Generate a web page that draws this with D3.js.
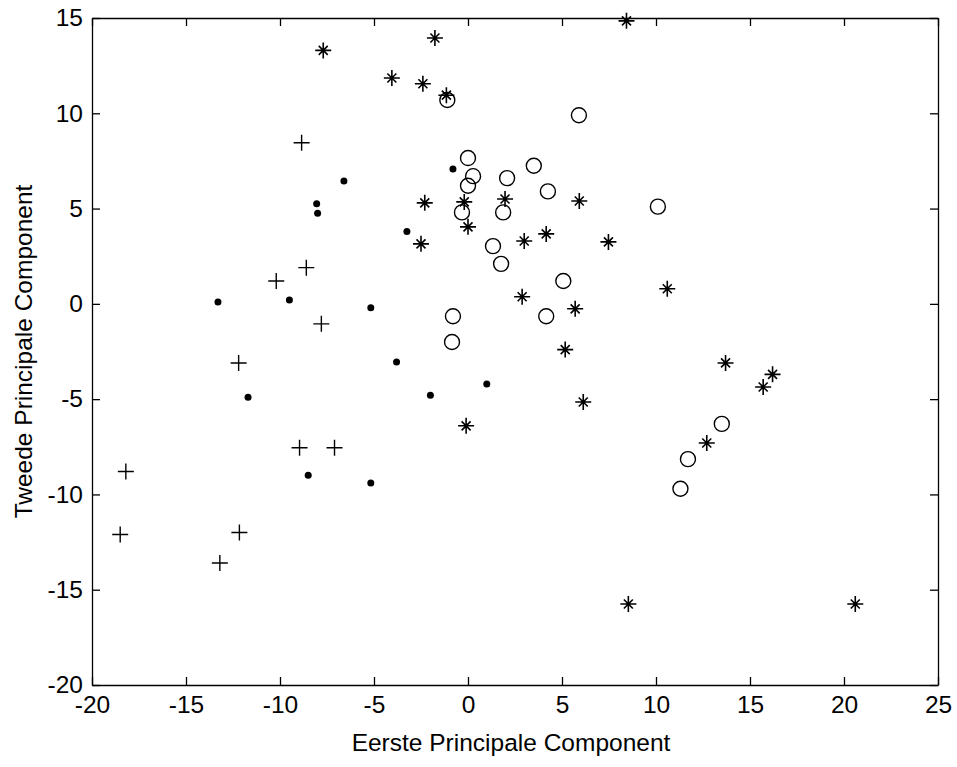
<!DOCTYPE html>
<html>
<head>
<meta charset="utf-8">
<script src="https://cdn.jsdelivr.net/npm/d3@7"></script>
<style>
  body { margin: 0; background: #fff; }
  text { font-family: 'Liberation Sans', Arial, sans-serif; fill: #000; }
</style>
</head>
<body>
<script>
const width = 957
const height = 767

// [first component, second component] per group
const plusPoints = [
  [-8.85, 8.45], [-8.6, 1.9], [-10.2, 1.2], [-7.8, -1.05], [-12.2, -3.1],
  [-8.96, -7.55], [-7.1, -7.55], [-18.2, -8.8], [-18.5, -12.1], [-12.16, -12.0],
  [-13.2, -13.6]
]
const dotPoints = [
  [-13.3, 0.1], [-9.5, 0.2], [-11.7, -4.9], [-8.5, -9.0], [-8.05, 5.25],
  [-8.0, 4.75], [-6.6, 6.45], [-0.8, 7.08], [-3.25, 3.8], [-5.17, -0.2],
  [-3.8, -3.05], [-2.0, -4.8], [1.0, -4.2], [-5.17, -9.4]
]
const circlePoints = [
  [-1.1, 10.7], [5.9, 9.9], [0.0, 7.65], [0.27, 6.7], [0.0, 6.2],
  [3.5, 7.25], [2.08, 6.6], [4.25, 5.9], [-0.32, 4.8], [1.87, 4.8],
  [1.33, 3.03], [1.76, 2.1], [5.07, 1.2], [-0.8, -0.65], [-0.85, -2.0],
  [4.16, -0.65], [10.1, 5.1], [13.5, -6.3], [11.7, -8.15], [11.3, -9.7]
]
const starPoints = [
  [-7.7, 13.3], [-1.76, 13.95], [-4.05, 11.85], [-2.4, 11.55], [-1.15, 10.95],
  [8.43, 14.85], [-2.3, 5.3], [-0.2, 5.35], [1.97, 5.5], [5.92, 5.4],
  [0.0, 4.04], [-2.5, 3.15], [2.99, 3.3], [4.16, 3.67], [7.47, 3.25],
  [2.88, 0.37], [5.7, -0.26], [5.17, -2.4], [6.13, -5.15], [-0.1, -6.4],
  [10.6, 0.79], [13.7, -3.1], [16.2, -3.7], [15.7, -4.36], [12.7, -7.3],
  [8.53, -15.75], [20.6, -15.75]
]

const xTicks = [-20, -15, -10, -5, 0, 5, 10, 15, 20, 25]
const yTicks = [-20, -15, -10, -5, 0, 5, 10, 15]

const plotLeft = 92, plotRight = 938, plotTop = 18, plotBottom = 685
const fontSize = 24.5

const svg = d3.select('body').append('svg')
  .attr('width', width)
  .attr('height', height)

const x = d3.scaleLinear().domain([-20, 25]).range([plotLeft, plotRight])
const y = d3.scaleLinear().domain([-20, 15]).range([plotBottom, plotTop])

const plain = d => String(d)

const styleAxis = g => {
  g.selectAll('path,line').attr('stroke', '#000').attr('stroke-width', 1.3)
  g.selectAll('text').attr('font-size', fontSize).attr('font-family', "'Liberation Sans', Arial, sans-serif")
}

svg.append('g')
  .attr('transform', `translate(0,${plotBottom})`)
  .call(d3.axisBottom(x).tickValues(xTicks).tickFormat(plain).tickSizeInner(-8).tickSizeOuter(0).tickPadding(11))
  .call(styleAxis)

svg.append('g')
  .attr('transform', `translate(0,${plotTop})`)
  .call(d3.axisTop(x).tickValues(xTicks).tickSizeInner(-8).tickSizeOuter(0).tickFormat(''))
  .call(styleAxis)

svg.append('g')
  .attr('transform', `translate(${plotLeft},0)`)
  .call(d3.axisLeft(y).tickValues(yTicks).tickFormat(plain).tickSizeInner(-8).tickSizeOuter(0).tickPadding(9))
  .call(styleAxis)

svg.append('g')
  .attr('transform', `translate(${plotRight},0)`)
  .call(d3.axisRight(y).tickValues(yTicks).tickSizeInner(-8).tickSizeOuter(0).tickFormat(''))
  .call(styleAxis)

svg.append('text')
  .attr('x', 511)
  .attr('y', 751)
  .attr('text-anchor', 'middle')
  .attr('font-size', fontSize)
  .text('Eerste Principale Component')

svg.append('text')
  .attr('transform', `translate(32,${(plotTop + plotBottom) / 2}) rotate(-90)`)
  .attr('text-anchor', 'middle')
  .attr('font-size', fontSize)
  .text('Tweede Principale Component')

const marks = svg.append('g')
  .attr('stroke', '#000')
  .attr('fill', 'none')

marks.selectAll('path.plus')
  .data(plusPoints)
  .enter().append('path')
    .attr('class', 'plus')
    .attr('stroke-width', 1.4)
    .attr('d', d => `M${x(d[0]) - 8},${y(d[1])}h16M${x(d[0])},${y(d[1]) - 8}v16`)

marks.selectAll('circle.dot')
  .data(dotPoints)
  .enter().append('circle')
    .attr('class', 'dot')
    .attr('stroke', 'none')
    .attr('fill', '#000')
    .attr('cx', d => x(d[0]))
    .attr('cy', d => y(d[1]))
    .attr('r', 3.5)

marks.selectAll('circle.ring')
  .data(circlePoints)
  .enter().append('circle')
    .attr('class', 'ring')
    .attr('stroke-width', 1.4)
    .attr('cx', d => x(d[0]))
    .attr('cy', d => y(d[1]))
    .attr('r', 7.5)

marks.selectAll('path.star')
  .data(starPoints)
  .enter().append('path')
    .attr('class', 'star')
    .attr('stroke-width', 1.6)
    .attr('d', d => {
      const cx = x(d[0]), cy = y(d[1])
      return `M${cx - 8},${cy}h16M${cx},${cy - 8}v16` +
        `M${cx - 4.5},${cy - 4.5}l9,9M${cx - 4.5},${cy + 4.5}l9,-9`
    })
</script>
</body>
</html>
